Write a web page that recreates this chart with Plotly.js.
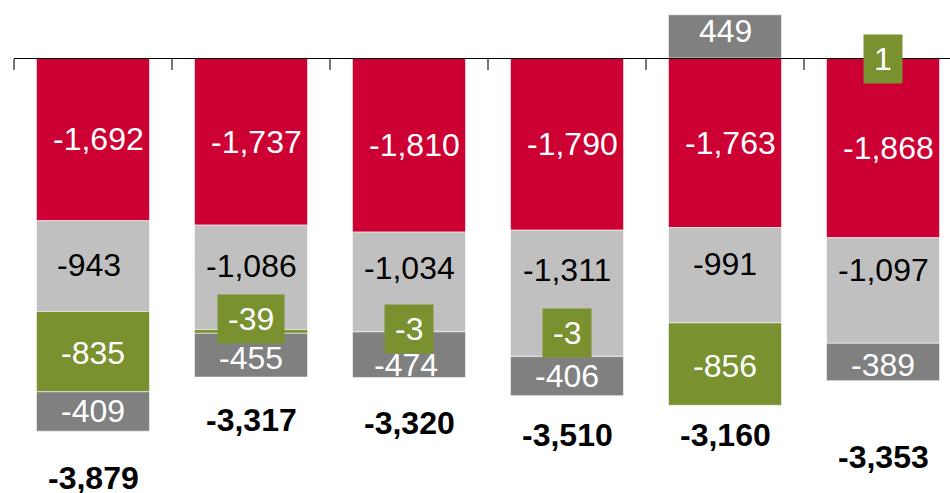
<!DOCTYPE html>
<html>
<head>
<meta charset="utf-8">
<script src="https://cdn.plot.ly/plotly-3.0.1.min.js"></script>
<style>html,body{margin:0;padding:0;background:#fff;}#chart{width:950px;height:493px;}</style>
</head>
<body>
<div id="chart"></div>
<script>
// ---- data ----
const categories = ["A", "B", "C", "D", "E", "F"];
const redValues       = [-1692, -1737, -1810, -1790, -1763, -1868];
const lightGrayValues = [-943, -1086, -1034, -1311, -991, -1097];
const greenValues     = [-835, -39, -3, -3, -856, 1];
const darkGrayValues  = [-409, -455, -474, -406, 449, -389];
const totals          = [-3879, -3317, -3320, -3510, -3160, -3353];

// ---- styling ----
const FONT = "Liberation Sans, Arial, sans-serif";
const FS = 32;
const SMALL = 100;
const seriesStyle = [
  {name: "red",   vals: redValues,       color: "#CC0033", txt: "#ffffff", dx: [5, 5, 5, 5, 5, 5],      dy: [0, 0, 0, 0, 0, 0]},
  {name: "light", vals: lightGrayValues, color: "#C0C0C0", txt: "#000000", dx: [-4, 0, 0, 0, 0, 0],     dy: [1, 11, 14, 23, 11, 20]},
  {name: "green", vals: greenValues,     color: "#7A9130", txt: "#ffffff", dx: [0, 0, 0, 0, 0, 0],      dy: [-1, 12, 3, 23, -2, -1]},
  {name: "dark",  vals: darkGrayValues,  color: "#808080", txt: "#ffffff", dx: [0, 0, -3, 0, 0, 0],     dy: [0, -3, -10, 0, 5, -3]}
];
const totalGapPx = [47, 43, 46, 39, 30, 76];

const fmt = v => v.toLocaleString("en-US");

const traces = seriesStyle.map(s => ({
  type: "bar", name: s.name, x: categories, y: s.vals,
  marker: {color: s.color, line: {color: "rgba(255,255,255,0.55)", width: 1}},
  hoverinfo: "skip"
}));

const annotations = [];
const negBase = categories.map(() => 0);
const posBase = categories.map(() => 0);
seriesStyle.forEach(s => {
  s.vals.forEach((v, i) => {
    let mid;
    if (v < 0) { mid = negBase[i] + v / 2; negBase[i] += v; }
    else { mid = posBase[i] + v / 2; posBase[i] += v; }
    const a = {
      x: categories[i], y: mid, xref: "x", yref: "y",
      text: fmt(v), showarrow: false,
      font: {family: FONT, size: FS, color: s.txt},
      xshift: s.dx[i], yshift: s.dy[i]
    };
    if (Math.abs(v) < SMALL) {
      a.bgcolor = s.color; a.borderpad = 10; a.height = 28;
    }
    annotations.push(a);
  });
});
// totals below bars
totals.forEach((t, i) => {
  annotations.push({
    x: categories[i], y: negBase[i], xref: "x", yref: "y",
    text: "<b>" + fmt(t) + "</b>", showarrow: false,
    font: {family: FONT, size: FS, color: "#000000"},
    yanchor: "middle", yshift: -totalGapPx[i]
  });
});

const yMin = -4522, yMax = 603;
const layout = {
  width: 950, height: 493,
  margin: {l: 14, r: 0, t: 0, b: 0, pad: 0},
  paper_bgcolor: "#ffffff", plot_bgcolor: "#ffffff",
  barmode: "relative", bargap: 0.285,
  showlegend: false,
  xaxis: {
    type: "category", range: [-0.5, 5.424],
    anchor: "free", position: -yMin / (yMax - yMin),
    showline: true, linecolor: "#000000", linewidth: 1,
    ticks: "outside", tickson: "boundaries", ticklen: 11, tickwidth: 2, tickcolor: "#777777",
    showticklabels: false, showgrid: false, zeroline: false, fixedrange: true
  },
  yaxis: {
    range: [yMin, yMax], visible: false, showgrid: false, zeroline: false, fixedrange: true
  },
  annotations: annotations
};

Plotly.newPlot("chart", traces, layout, {displayModeBar: false, staticPlot: true});
</script>
</body>
</html>
